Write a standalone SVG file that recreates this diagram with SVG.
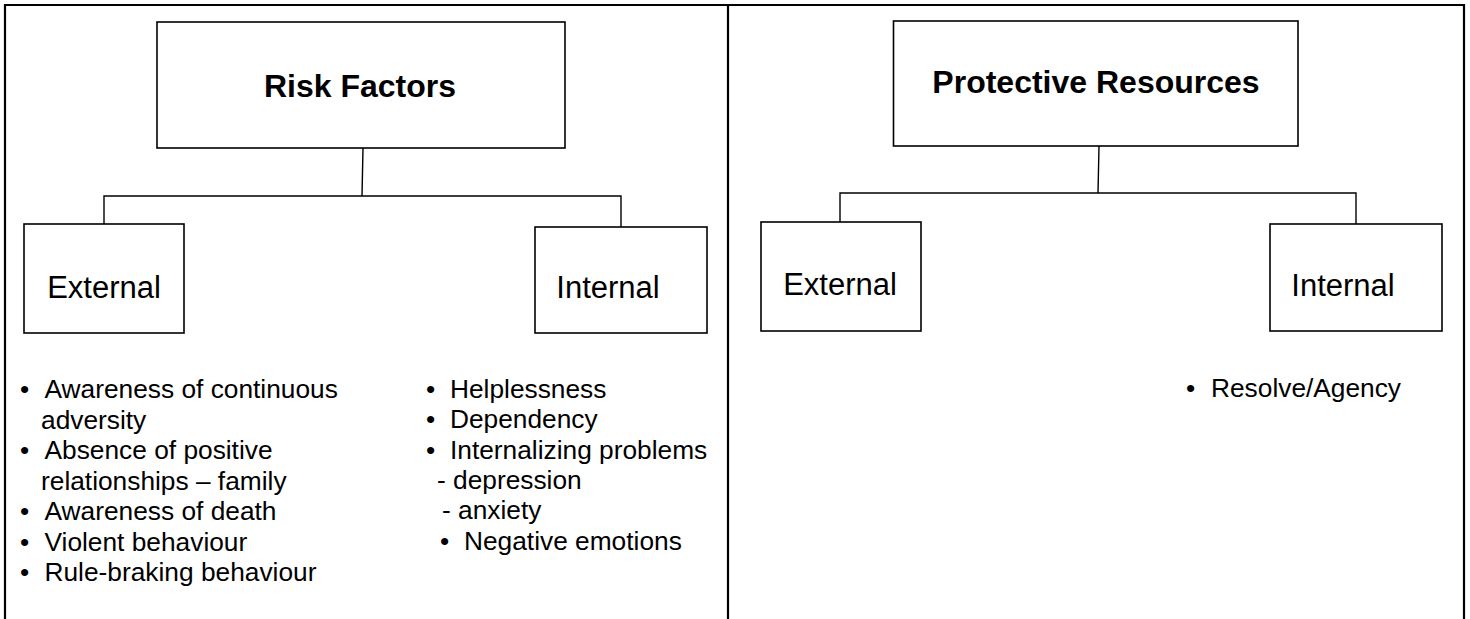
<svg xmlns="http://www.w3.org/2000/svg" width="1470" height="619" viewBox="0 0 1470 619">
  <style>
    .frame { fill: none; stroke: #000; stroke-width: 2.2; }
    .box { fill: #fff; stroke: #000; stroke-width: 1.6; }
    .wire { fill: none; stroke: #000; stroke-width: 1.4; }
    .title { font-family: "Liberation Sans", Arial, Helvetica, sans-serif; font-weight: bold; font-size: 32px; fill: #000; text-anchor: middle; }
    .label { font-family: "Liberation Sans", Arial, Helvetica, sans-serif; font-size: 31px; fill: #000; text-anchor: middle; }
    .item { font-family: "Liberation Sans", Arial, Helvetica, sans-serif; font-size: 26.3px; fill: #000; }
  </style>

  <rect width="1470" height="619" fill="#fff"/>

  <!-- outer frame: open at the bottom, split into two panels -->
  <g id="frame">
    <path class="frame" d="M5,619 V5 H1464 V619"/>
    <line class="frame" x1="728" y1="5" x2="728" y2="619"/>
  </g>

  <!-- connectors -->
  <g id="connectors">
    <path class="wire" d="M363,148 L362,196"/>
    <path class="wire" d="M104,224 V196 H621 V227"/>
    <path class="wire" d="M1099,146 L1098,193"/>
    <path class="wire" d="M840,222 V193 H1356 V224"/>
  </g>

  <!-- left panel -->
  <g id="risk-factors">
    <rect class="box" x="157" y="22" width="408" height="126"/>
    <text class="title" x="360" y="97">Risk Factors</text>
  </g>
  <g id="risk-external">
    <rect class="box" x="24" y="224" width="160" height="109"/>
    <text class="label" x="104" y="298">External</text>
  </g>
  <g id="risk-internal">
    <rect class="box" x="535" y="227" width="172" height="106"/>
    <text class="label" x="608" y="298">Internal</text>
  </g>

  <g id="risk-external-list" class="item">
    <text x="20" y="398">•</text><text x="44.5" y="398">Awareness of continuous</text>
    <text x="41" y="428.5">adversity</text>
    <text x="20" y="459">•</text><text x="44.5" y="459">Absence of positive</text>
    <text x="41" y="489.5">relationships – family</text>
    <text x="20" y="520">•</text><text x="44.5" y="520">Awareness of death</text>
    <text x="20" y="550.5">•</text><text x="44.5" y="550.5">Violent behaviour</text>
    <text x="20" y="581">•</text><text x="44.5" y="581">Rule-braking behaviour</text>
  </g>

  <g id="risk-internal-list" class="item">
    <text x="426" y="398">•</text><text x="450" y="398">Helplessness</text>
    <text x="426" y="428">•</text><text x="450" y="428">Dependency</text>
    <text x="426" y="459">•</text><text x="450" y="459">Internalizing problems</text>
    <text x="437" y="489">- depression</text>
    <text x="442" y="519">- anxiety</text>
    <text x="440" y="550">•</text><text x="464" y="550">Negative emotions</text>
  </g>

  <!-- right panel -->
  <g id="protective-resources">
    <rect class="box" x="893.5" y="21" width="404.5" height="125"/>
    <text class="title" x="1096" y="93">Protective Resources</text>
  </g>
  <g id="protective-external">
    <rect class="box" x="761" y="222" width="160" height="109"/>
    <text class="label" x="840" y="295">External</text>
  </g>
  <g id="protective-internal">
    <rect class="box" x="1270" y="224" width="172" height="107"/>
    <text class="label" x="1343" y="296">Internal</text>
  </g>

  <g id="protective-internal-list" class="item">
    <text x="1186" y="397">•</text><text x="1211" y="397">Resolve/Agency</text>
  </g>
</svg>
